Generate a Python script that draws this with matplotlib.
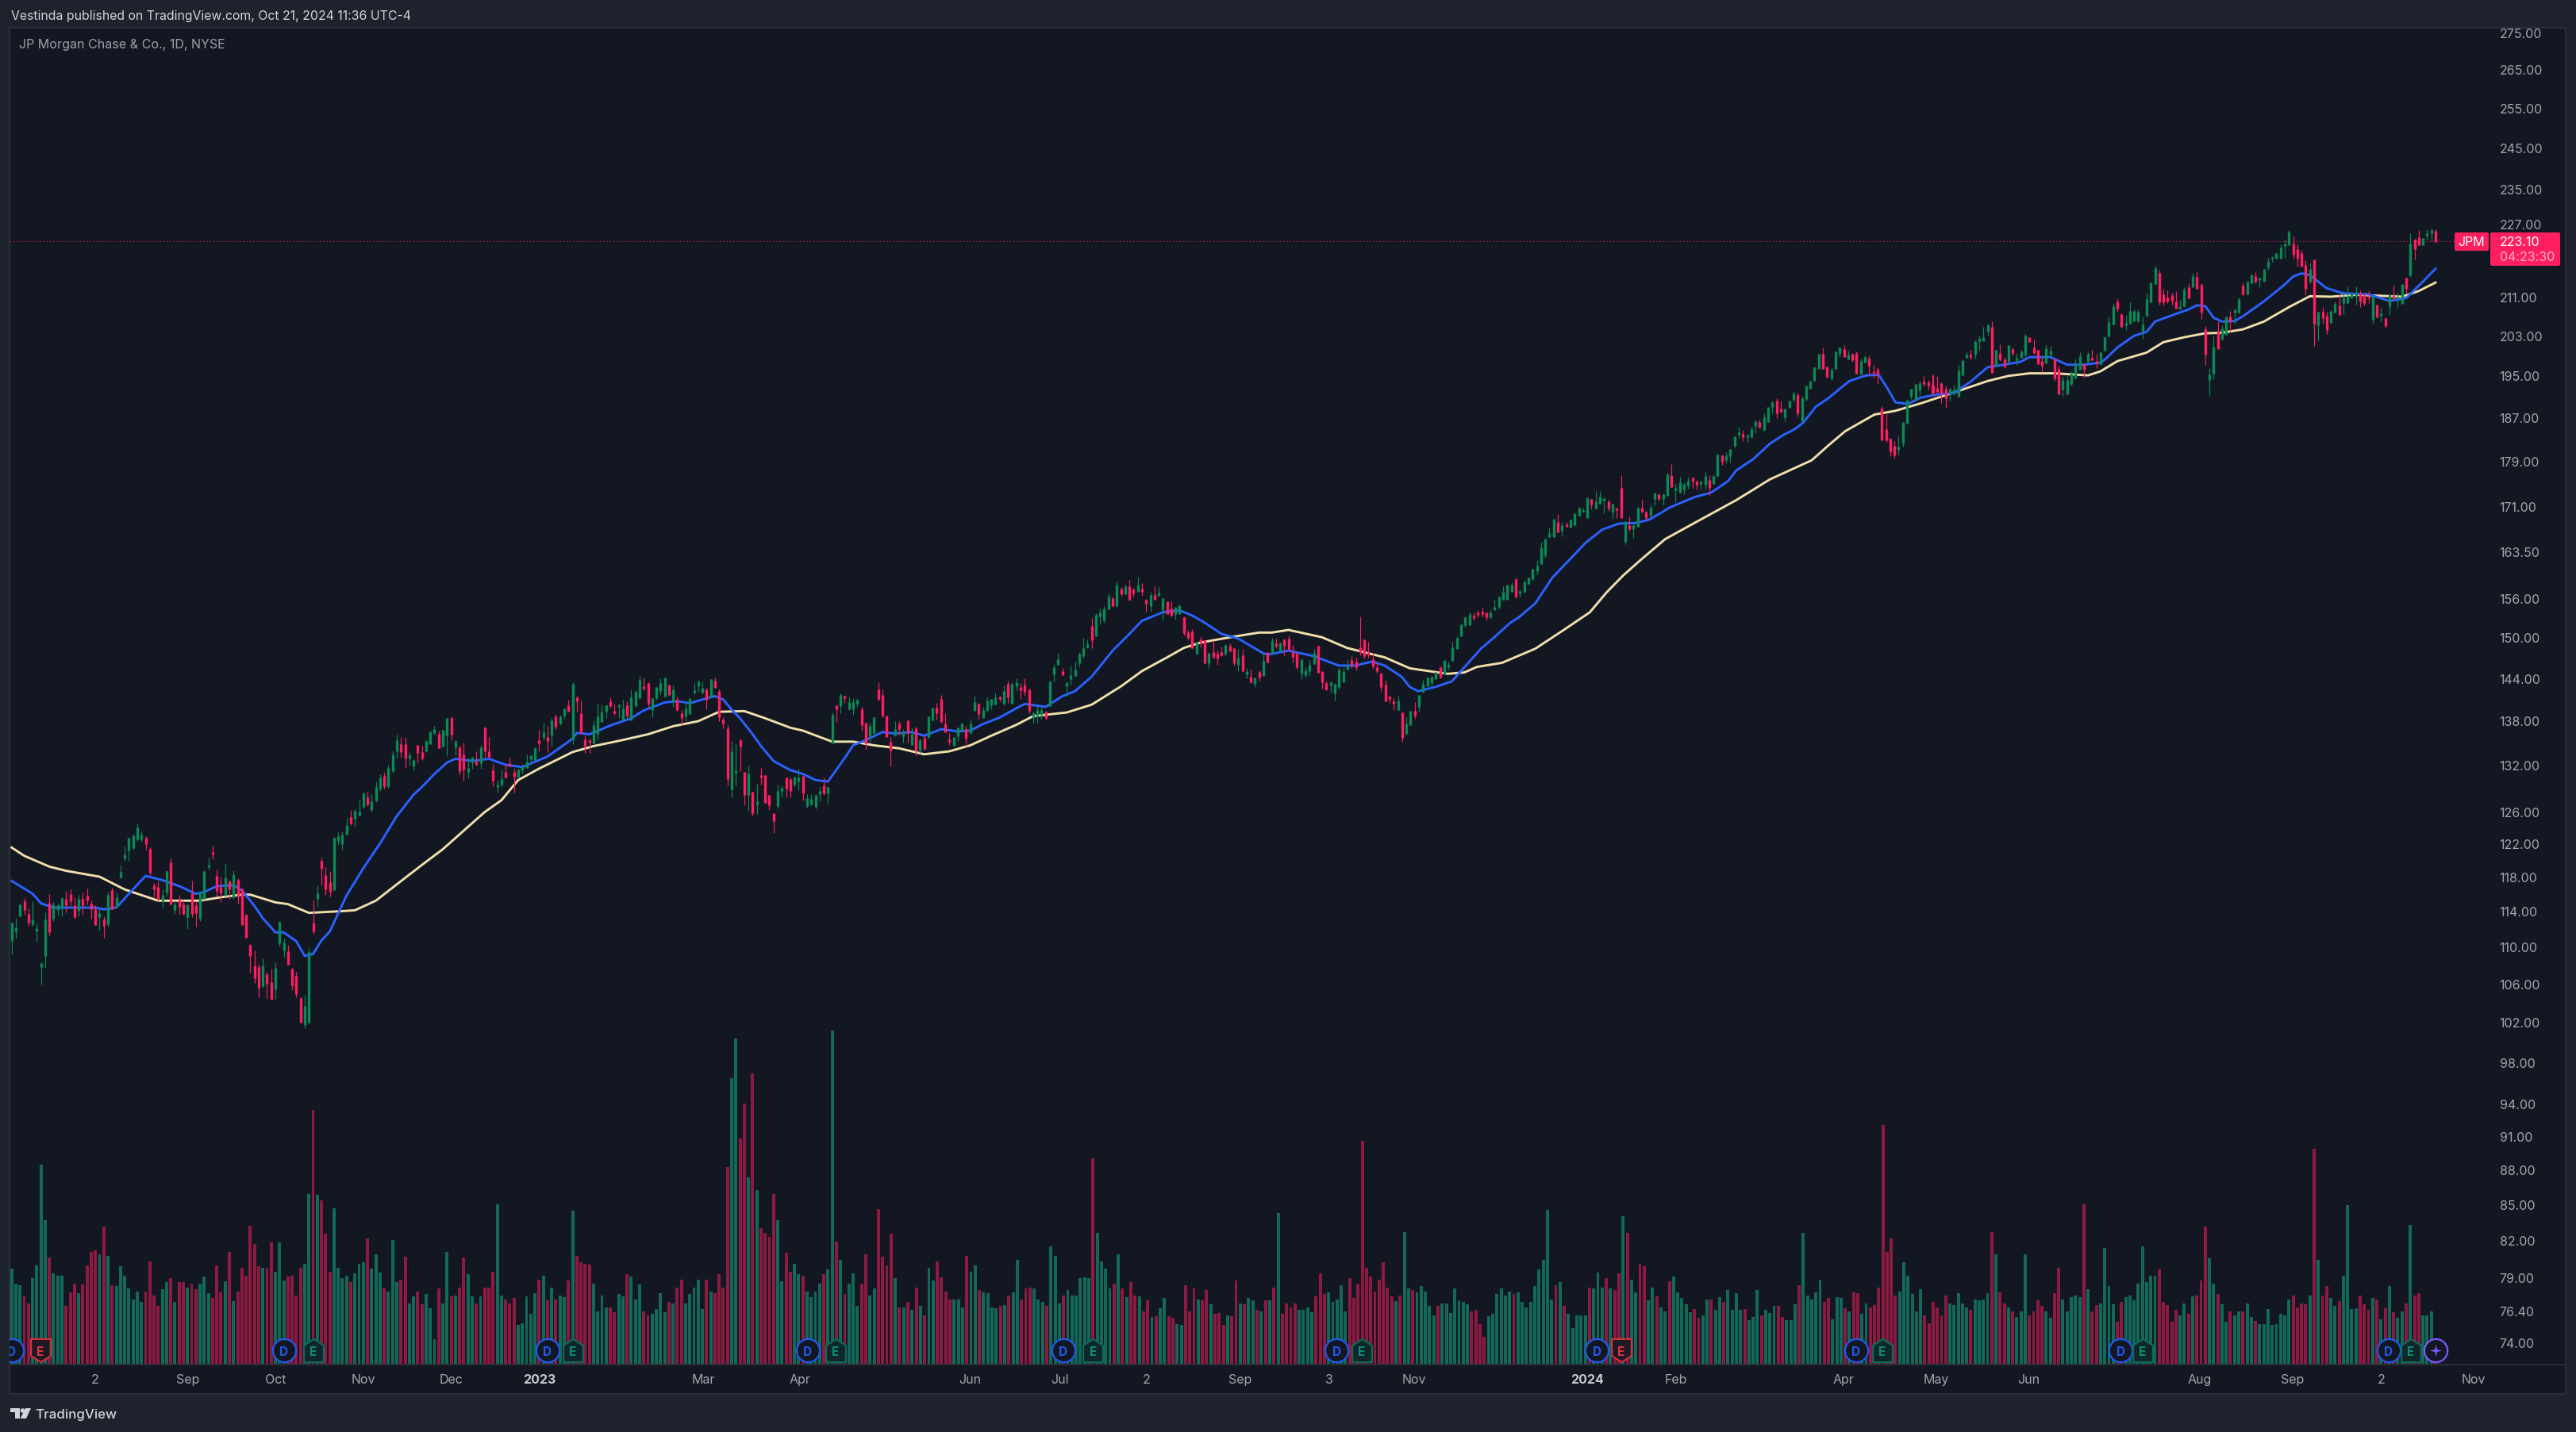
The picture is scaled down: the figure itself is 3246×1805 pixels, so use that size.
import numpy as np
import matplotlib
matplotlib.use("Agg")
import matplotlib.pyplot as plt
from matplotlib.path import Path
from matplotlib.patches import Rectangle, FancyBboxPatch, Polygon, Circle

plt.rcParams['font.family'] = ['Inter', 'DejaVu Sans']

opens = [
110.7,111.8,113.5,115,113.6,112.6,111.8,107.9,109.1,114.9,
113.2,114.2,114.5,115.3,115.9,114.6,114.1,115.3,115.7,114.8,
114.1,113.4,113,112.6,116.3,114.6,118,120.3,121.2,121.5,
122.6,122.6,122.6,121.2,116.9,116.7,115.2,116.2,119.6,114.2,
115.2,114.7,113.4,116,114.6,113.2,115.5,119.2,120.9,118,
116.7,115.9,117.4,115.8,117.5,116.5,113.5,110.1,107.9,107.7,
105.8,106.9,106.1,105.5,110.5,109.7,109.4,107.5,106.8,104.4,
101.8,102,112.6,115.5,119.8,118.1,117.3,116.5,122.4,122,
123.2,125.2,125.2,125.6,126.7,127.7,126.3,127.5,129,130.4,
129.3,131.3,133.9,134.7,134.6,132.9,131.9,134.5,133.6,133.9,
134.9,136.4,136.1,134.5,136,138.2,134.4,134.2,133.3,131.2,
132.4,132.3,132.3,136.9,133.7,131.2,129.2,129.5,131,132.1,
131,130.4,131.4,131.7,132.8,132.7,135.2,135.8,135.6,136.1,
138.5,137.7,138.8,140,135.5,141.1,138.9,135.3,135.2,135,
136.3,137.9,139.3,140.6,139.2,140,138.1,140,138.1,140.1,
141.2,142.7,143.2,139.6,141.2,142.3,141.4,142.9,140.8,140.8,
138.9,138.7,139,142,142.9,142,142.3,141.3,143.5,142,
138,136.8,128.9,131.1,135.2,131,128.2,128.4,127,130.5,
130.5,128,125.7,126.8,128.7,130.2,130,129.5,129.9,130.4,
126.8,127,126.7,128.3,129.2,128.4,135,140,140.1,141.3,
139.7,139.7,140.4,139.5,137.6,135.9,136.4,142.3,141.5,138.6,
135,136.1,137.5,135.9,137.9,134.8,136.8,134,135.5,135.8,
138.1,139.7,140.9,137.5,135.3,134.7,135.9,136.7,136.7,136.4,
139.5,140.2,138.5,139.5,140.2,140.3,141.2,140.4,143,140.5,
142.9,142.6,142.9,142.3,138.4,138.7,138.9,139.1,140.1,144.6,
146,144.9,142.9,143.9,144.4,146.3,147.3,148.6,151.6,150.3,
153.3,152.7,154.4,155.9,154.9,157.3,156.7,157.7,157.2,157.1,
157.4,155.6,154.9,156.4,156.5,154.2,155.4,154.3,153.7,153.7,
152.9,150.6,150.8,147.6,149.6,149.4,146.3,147.6,147.4,147.6,
147.6,148.6,148.2,146,147.2,144.6,144.1,143.3,144.8,144.4,
147.6,147.8,148.9,148,149.6,149.7,147.6,147.4,144.7,144.5,
145.1,146.1,148.6,144.9,143.2,143,141.9,142.8,143.5,145.3,
146.5,146.2,148.4,149.5,147.7,146.6,145.5,144.5,142.9,141.2,
140.6,139.6,139,136.3,137.5,139.2,140,142.1,142.9,143.4,
144,145.4,144.6,145.7,146.6,148.4,150.3,152,152,153.2,
153.6,153.8,153.6,153.2,154.2,154.8,155.8,155.9,157.1,158.8,
156.9,157.1,158.3,159.1,160.4,161.6,163,166,166,168.2,
167,167.8,167.6,168,169.5,170.2,169.2,172.1,170.8,171.6,
172.2,171.8,170.2,170.6,174,165.2,167.7,167.3,167.7,170.7,
169.9,169.6,172.4,172.9,172.4,172.9,176.3,173.9,173.5,174,
174.7,175.9,175.2,175.1,174.9,175.5,175.1,176.5,179.9,179.2,
180,181.8,183.9,183.8,183.4,183.4,185.5,185.9,184.7,186.2,
189.1,190,188.5,187.2,188.9,190.4,191.1,186.4,190.6,192.6,
194.1,196.4,199.1,196.6,194.5,196.4,199.4,200.1,198.3,199.1,
199.3,195.4,197.6,198.2,195.7,196,188.4,184.6,182.9,181.5,
181.1,182.3,185.9,191,190.4,192.2,193.6,193.5,192.9,192.9,
192.4,193.3,192.2,191.8,191.8,191.1,195.2,198.6,198.9,199.2,
202,202,203.9,204.5,197,199.3,198,197.8,200,198.2,
198.7,199.3,202.4,200.3,199.9,197.6,197.5,199.2,198.2,196.1,
192.4,191.5,193.5,194.5,196.3,197,197.8,198.3,197.7,197.4,
200,202.9,205.3,209.8,207.1,205.2,205.6,206.1,206.1,204,
207.1,210,213.8,215.9,211.3,210.6,211.1,209.8,208.6,209.2,
212.8,213.2,215,213.3,204,194.2,195.5,203.7,202.4,203.2,
206.6,207.8,207.8,213.1,211.6,214,215.2,214.7,214.4,217.5,
219.3,219.3,219.3,222.2,222.3,222.4,221.2,220.3,217.7,214.3,
218.8,205.2,207.6,206.9,205.7,207.8,209,209.8,209.9,210.9,
211.1,211.6,211.1,210.9,206.3,209.1,207.2,206.3,209.2,211.1,
210.8,209.6,214.9,215.7,223.3,223.8,222.3,224.4,225,225.2]

closes = [
112.6,112.1,114.7,114.2,112.8,113,112,108.1,113,111.7,
114.7,114.6,115.4,114.8,115.2,113.4,115.3,114.8,115.3,114.3,
112.5,113.7,112.4,115.8,114.3,115.5,118.5,120.6,122.6,122.9,
123.9,123,122,118.6,116.6,115.5,115.8,118.6,114.9,114.7,
114.6,113.8,114.7,113.8,113.9,116,118.6,119.3,120.8,116.4,
116.1,117.8,116.6,118.2,115.8,112.5,111.1,109.1,106.7,105.7,
107.9,106.1,104.4,107.6,112.7,110.4,108.1,105.9,105,102,
103.6,109.3,111.8,116,119,116.6,116.3,122.6,122.8,123,
124.2,124.6,126,125.9,128.2,127,127.2,129,130.2,129.3,
131.5,133.3,135.2,133.8,132.9,133.2,132.5,133.7,132.9,135.1,
136.4,136.7,134.3,136.6,138.2,136.2,135.1,131.3,131.5,131.5,
132.9,132.1,134.2,133.9,133.2,130,129.3,130,130.4,131.9,
130.5,131.3,131.7,132.3,133.2,134.1,135,136.3,135.3,137.9,
137.2,138.5,139.6,139.3,143,140.8,136.4,134.6,135.1,137.2,
138.4,139.1,140,140.1,139.1,140.1,139.6,138.8,141.1,141.9,
143.6,142.6,140.4,141,142.6,143.2,143.9,141.7,142.3,139.6,
138.5,139.6,140.9,142.1,143.4,142.5,141,143.7,142.7,138.6,
137.7,130.2,133.7,131.2,134.5,128.2,130.7,125.9,127.2,130.4,
127.2,126.9,124.9,128.5,128.9,129,128.7,130.3,130.2,128.4,
127.6,127.5,128,128.5,128.4,129,138.7,139.7,141.4,141.2,
140.5,140.5,140.8,137.5,135,137.1,138.3,141,138.8,135.8,
134,136.7,136.9,136.4,136.4,136.1,134,135.2,134.2,138.4,
139.7,139.1,137.9,136.5,135.2,135.6,136.9,137.5,135.6,137.5,
140.4,139,139.3,140.7,140.9,141.1,141.1,142,141.3,143,
143.3,142.4,142.1,139.4,138.9,139.3,139.3,138.5,143.4,145.4,
146.6,144.5,143.3,144.3,145.1,147.4,148.2,148.8,149.7,153.3,
153.6,154.3,156.1,154.9,158,156.7,157.7,155.8,156.8,158,
157.1,155.3,156.4,155.9,156.7,155.9,153.7,153.4,154.5,154.8,
150.8,150,148.5,149.1,149.3,146.3,147.5,147.1,147,147.4,
148.7,148,146.3,146.8,145.1,144.9,143.5,143.9,144.2,146.4,
146.4,149.3,148.8,149.1,148.8,148.2,147.2,145.7,146.6,145,
145.8,147.5,144.9,143.5,142.5,143.3,143,145.1,144.8,145.7,
146,145.7,147.9,147.3,147.5,145.8,145.1,142.8,140.8,141.1,
140.4,140.7,135.7,137.5,139.2,138.8,141.4,143,144,144.1,
144.8,144.2,146.5,145.8,148.4,149.8,151.8,152.9,153.4,153,
153.5,153.7,153.1,153.7,154.5,156.1,156.8,158,158,156.3,
157,158.5,159.1,160.5,161,164,165.4,166.4,168.7,166.8,
167.7,167.7,168.6,169.7,170.6,170.3,172.4,171.5,171.7,172.5,
172.3,170.8,171.3,170.5,169.2,168.3,167.3,167.7,170.6,170.2,
169.2,170.7,173.2,172.4,172.9,176.4,174.5,174,175,174.7,
175.3,175.5,174.9,175.2,176.1,174.4,176.2,180,179,179.8,
181,183.3,184.1,183.4,183.6,184.6,186.1,185.2,186.8,188.7,
189.6,187.8,188.1,188.4,189.9,191.4,187.9,190.4,192.8,193.8,
196.4,199.1,196.4,194.8,195.9,199.6,200.4,198.8,199,198.2,
195.5,197.6,198.5,197.1,195.6,195.4,182.8,182.8,180.8,180.1,
181.4,185.9,190.2,192.2,193.2,193.4,193.5,193.2,191.7,191.8,
191.9,191.6,190.7,192.2,192.1,195.8,197.8,198.9,198.8,201.7,
202.1,202.4,205.1,195.7,199.9,198.3,196.9,200.9,199.6,198.3,
199.6,202.7,201.8,199.5,197.4,197,200.2,199.7,194.5,191.5,
193.9,194,195.2,197.2,198.7,196.3,199.1,198.2,197.5,199.4,
202.4,205.6,208.9,208.6,204.8,205.3,207.8,207.9,207.6,205.1,
210.3,213.8,217,210,210,210.2,210.3,208.6,208.8,212.4,
210.8,215.3,212.8,207.9,199.2,195,200.5,200.3,204.2,206.6,
206.1,208.1,210.4,211.6,214.1,215.6,214.4,214.9,216.7,218.4,
219.4,220.3,221.4,222.3,225,220.3,219.3,217.7,212.8,216.8,
205.5,207.6,206.6,204.3,207.9,209.4,207.4,210.6,211,211.7,
211.6,210.1,209.8,210.8,210.9,206.9,207.4,205.1,211.4,210.9,
210.9,213.5,212.8,222.4,221.4,222.3,223.6,224.6,225.4,223.1]

highs = [
112.7,113.2,114.9,115.5,114.3,115.1,112.6,108.3,113.9,116,
115,114.9,115.6,116.3,116.5,115.6,115.9,116.1,116.6,115.2,
114.7,114.2,113.4,116.2,116.7,116.1,119.4,121.6,122.8,123.1,
124.5,123.5,122.9,121.5,117.3,117.4,116.5,118.8,120.2,115.2,
115.9,115.3,114.8,117.5,115.1,116.2,118.8,120.3,121.7,118.9,
118,119.5,117.4,118.8,117.8,116.6,113.7,110.3,109.6,108.1,
108.7,107.3,107.6,108.3,112.9,110.9,110.2,107.7,107.3,104.6,
104.8,109.9,115.3,117,120.3,119.1,118.7,122.8,123.4,123.5,
125.2,126.2,126.3,127.5,128.5,128.5,128.2,129.8,130.8,131,
132,133.9,136.1,135.7,135.7,133.7,132.7,134.6,134.5,135.3,
136.5,137.2,136.6,136.6,138.3,138.6,135.3,134.5,135,133,
133,133.8,134.6,137.1,135.7,132.1,130,131.4,132,133,
131.5,131.5,132.1,133.4,133.2,134.3,136.7,137.7,137.2,138.3,
138.9,138.8,139.7,140.9,143.5,141.5,140.8,135.9,135.5,138,
140.3,140.2,140.2,141.2,140.3,140.2,140.9,140.7,142.4,142.3,
144.3,144.1,143.4,141.2,142.7,143.9,144,143,142.9,141.3,
139.4,140.7,141.2,143.3,143.7,143.5,142.6,143.8,144.1,142.4,
138.5,137.4,135.2,134.9,135.5,131,131.9,128.5,129.5,131.6,
130.6,128,125.7,129.4,129.3,130.3,130.3,130.4,131.5,130.5,
128.2,128.2,128.2,129.1,130.3,129.1,139.1,140.2,141.8,141.5,
141.3,141.1,141,139.9,137.7,137.7,138.4,143.4,142.4,138.6,
135.7,137.9,137.9,136.8,138,137,137.1,135.5,135.9,138.6,
139.8,140.4,141.6,139,136.3,135.7,137,137.7,137.2,138.2,
141.4,140.4,139.9,141.2,141,141.9,141.3,142.9,143.6,143.4,
144,143.3,144,142.5,139.2,140,139.8,139.3,143.6,146,
147.6,145.4,143.4,145.8,146.4,147.8,149.9,149.7,152.9,153.7,
154.4,154.8,156.7,156.2,158.6,157.7,158.1,158.8,157.6,159.4,
158.4,155.9,157,157.8,157.7,156,155.5,155.5,154.5,155,
153.2,151.1,151.2,149.3,150.2,149.7,147.6,149.4,148,148.6,
148.9,149.1,148.4,148.2,148.3,145.5,145.3,144,145.1,147.6,
147.8,149.9,149.8,149.2,149.8,150.3,148.8,147.8,146.6,145.6,
146.6,148.3,148.7,144.9,143.5,143.5,143.1,145.5,145.4,146.7,
147.2,147,153.1,149.6,149.3,147.6,146.2,144.8,143.7,141.5,
141.1,141.5,139.1,138.4,139.2,140.6,141.5,143.7,144.1,144.3,
144.8,145.7,146.5,146.4,149.3,150.2,152,153.1,153.9,153.8,
154.1,154.5,153.7,154.1,155.7,156.2,157.9,158.1,158.5,159.2,
157.4,158.7,159.3,160.7,162,165,165.5,167.4,168.8,169.7,
168.4,168.4,168.7,169.7,170.9,170.8,172.4,172.3,173.6,173.6,
172.6,172.1,171.4,170.6,176.5,168.5,169.3,168.1,170.9,172.2,
170.2,171.3,173.3,173.3,173.2,176.9,178.4,175.1,176.1,175.1,
176.1,176.2,175.6,175.4,177,176.4,176.4,180.3,180.1,180.6,
181.1,183.5,185.2,184.6,183.7,185.2,186.4,186.6,187.7,188.8,
190.2,190.6,190.1,188.6,190.2,191.9,191.7,191.1,192.9,194,
196.7,199.2,200.5,196.8,196.5,199.7,200.7,201,199.9,199.4,
199.8,198.3,199,199,197.1,196.6,189,187.6,183.2,182.5,
183.5,186,190.2,192.3,193.2,194,194.8,194.1,195.1,195.2,
194.8,193.7,193,192.5,193.2,197,197.9,199.6,200.1,201.9,
202.9,204.7,205.2,205.9,200.1,201.1,198.7,201,200.6,199.4,
200.1,203.3,202.6,202.1,200,198.7,201.1,200.9,198.2,196.9,
194.8,195.1,195.8,198.2,199.6,197.4,199.5,200.1,199.2,199.5,
202.7,206.9,209.7,210.6,207.5,207.1,209.9,208.3,208.3,206.8,
211.9,213.9,217.7,216.7,212.6,212.3,211.9,212.1,210.3,213,
213.8,216,216.5,213.9,204.8,196.5,202.7,205.9,205,206.7,
208,208.2,210.9,214,214.3,215.6,216.2,215.1,216.9,219.4,
219.8,220.5,222.3,223.4,225.6,224.2,222.3,221.1,218.9,218.4,
218.8,207.8,208.9,207.8,208.1,210,211.5,212.1,213.1,211.9,
213.1,212.4,211.9,212.3,211.1,209.2,208.9,206.6,211.7,213.4,
211.9,213.6,214.9,224.8,223.6,225.6,223.6,225.8,226,225.8]

lows = [
109.2,110.9,113.5,113.6,112.3,112.3,110.6,105.9,107.7,111.3,
112.9,113.6,113.4,113.9,114.6,113.1,113.4,113.6,114.8,113.1,
112.4,111.8,111,112.2,114.2,114.4,117.8,119.9,119.9,121.2,
122.3,122.2,121.2,118.2,115.6,115.1,114.4,115.7,114.9,113.7,
113.6,113.6,112,113.3,112.2,112.9,115.3,118.9,120.1,115.7,
115,115.8,115.4,115.4,114.9,112.5,111.1,107.2,106.1,104.6,
105.6,104.4,104.4,104.4,110,108.9,108,105.3,104.6,102,
101.4,101.9,111.4,114.5,117,115.9,115.7,116.5,121.8,121.2,
123.2,124.3,124.1,125.6,126.4,126.7,126,127.2,128.6,128.9,
129,131,132.9,132.9,131.6,131.9,131.3,132.3,132.6,133.7,
134.8,136,134.2,134.4,133.2,135.3,133.3,130.7,129.9,130.2,
131.5,132,131.5,132.9,132.9,129.2,128.4,129.2,130.2,131.8,
128.4,130.2,130.9,131.6,132.2,132.6,133.8,135.3,133.7,134.4,
136.8,137.4,138.2,139.3,134.8,139.2,136.3,133.6,133.6,134.9,
135.3,137.8,138.3,139.8,138.8,138.3,138.1,138.3,138.1,139.9,
141.1,142.3,139.9,138.5,140.9,141.6,141.3,141.6,139.9,139.3,
137.4,137.9,138.9,141.7,142,141.8,139.6,141.2,142.7,137.9,
136.9,129.3,127.8,129.3,131.2,126.8,126.1,125.5,125.7,129.4,
127.1,126.2,123.3,126.4,127.8,127.8,127.8,129.1,128.7,127.4,
126.5,126.8,126.4,127.3,128.1,127,134.9,137.7,139,140.4,
139.5,138.8,139.9,136.6,134,135,136.1,140.9,138.4,135.7,
131.8,135.8,136.1,135,135,134.8,133.2,133.6,134,135.5,
138,138.1,137.7,136.4,134.7,134.5,135.2,136.4,134.4,136.3,
139.4,138.1,138.3,139.4,139.6,140.2,140.7,140.1,140.5,140.3,
142.3,141,141.5,139,137.6,137.7,138.2,138.1,140,143.5,
145.9,144.4,141.5,143,144.3,145.7,147,148.4,148.4,150.2,
151.9,152.2,154.3,154.8,154.8,156.4,156.6,155.6,156.2,157.1,
156.4,153.9,153.9,155.8,156.4,152.6,153.5,153.2,152.7,153.6,
150.3,149.6,148.4,147.4,148.5,146,145.5,147,145.9,147.2,
147.2,148,145.8,145,145,144,143.3,142.7,143.6,144.3,
146.3,147.7,148.4,147.9,147.3,148.1,146.2,145.2,143.8,144.1,
144.3,146,144.8,142.5,142.3,141.9,140.8,142.5,143.4,145.3,
145.4,145.1,147.3,146.8,147,145.3,144.8,142.1,140.7,140.4,
139.4,139.4,135.1,136,137.4,138.2,139.2,141.9,142.8,142.8,
143.9,143.9,144.6,145.2,146.5,148.3,150.2,151.6,151.9,152.6,
153,153.2,152.6,152.8,154.1,154.4,155.7,155.9,157,156,
156.1,156.9,158.2,158.9,159.8,161.5,162.5,165.9,165.8,166.7,
165.9,167.5,167.4,167.9,169.4,169.9,169.1,170.6,170.7,171.5,
169.8,170.3,168.9,169,169.2,164.7,166.9,165.7,167.5,170,
168.7,169.3,171.2,172,171.2,172.8,174.3,171.7,173.4,173.1,
174,174.2,173.9,173.9,173.9,173,175,176.2,178.2,178.5,
178.7,181.4,183.2,182.6,182.3,183.2,184,185,184.4,186.1,
187.7,186.8,188,186.3,188.7,190,187.2,186.3,190.2,192.5,
194,196.3,196.3,194.6,194.1,196.3,198.7,198.7,198.1,197.7,
195.4,195.3,197.5,195.1,194.4,193.4,182.7,182.4,179.8,179.4,
180.1,181.5,185.9,190.5,190.3,191.2,192.8,192.3,191.1,191.7,
191.7,189.7,188.7,190.1,191.2,191.1,195.2,198.4,198.2,198.3,
199.9,202.1,202.9,195.7,196.8,197.9,196.4,197.6,198.9,197.1,
198.6,198.5,201.6,199.2,197.3,195.6,197.3,198.7,194,191.5,
191.1,191.4,193,194.4,196.2,194.5,197.6,198,196.5,197.1,
199.9,202.8,205.2,207.8,204.7,204.1,205.6,206,205.7,202.3,
206.8,209.8,213.6,209.4,209.2,209.7,209.4,208.5,208.3,208.8,
210.7,213.1,212.6,206.4,197.1,191,194.3,200.3,201.9,203.1,
203.8,205.3,207.5,211.3,211.5,213.9,213.8,213,214.4,216.7,
218.5,219.3,219.3,219.3,222.2,219.2,217.4,217.4,211.3,213.9,
200.8,201.9,205.3,203.2,205.6,207.6,207.4,207.4,209.7,210.8,
209.4,208.9,209.2,209.7,205.4,206.8,205.8,204.5,207.1,210.3,
208.6,209.6,211.6,215.3,219,222.1,222.1,223.4,223.1,223.1]

# Volume in millions, in three stretches
volume_a = [
9.7,8.2,8,6.9,6.2,8.7,10,20.2,14.6,10.8,9.2,9,9,5.9,7.3,8.2,7.2,8.1,10,11.4,11.5,11.1,13.9,11,8,7.9,9.9,9,7.7,6.6,7.4,6.3,7.4,10.4,7,5.9,7.6,8.3,8.7,6.3,
8.3,8.3,7.8,8.2,7.6,8.2,8.9,7.2,6.7,10,7.3,8.4,11.4,6.4,7.4,9.8,9,14,12.2,9.9,9.8,9.8,12.3,9.4,12.3,8.5,8.9,9,7,9.8,10.2,17.2,25.7,17.1,16.6,13.2,9.4,15.8,9.8,8.7,
9,8.3,9.2,10.2,10.3,12.7,9.7,11.1,9.3,7.7,7.4,12.6,8.3,8.6,10.9,6.2,6.9,7.4,6.1,7.1,5.7,2.6,7.7,6.2,11.4,6.9,7,7.8,10.8,9.1,6.9,6.2,6.9,7.8,7.8,9.4,16.2,7,6.6,6.2,
6.7,4,4.2,6.9,5.1,7.2,8.6,9,6.5,7.8,6.6,7,6.8,8.5,15.5,11,10.3,10.2,10.1,8.2,5.4,7,5.8,5.8,5.3,7.1,6.9,9.1,8.9,6.6,8.1,5.4,5,5.1,5.6,7.2,5.3,6.3,6.2,7.8,
8.6,6.2,7.1,7.8,8.6,5.6,8.6,7.4,7.2,9.1,7.8,19.9,28.9,32.9,22.8,26.3,18.9,29.4,17.6,13.8,13.3,12.9,17.2,14.6,8.4,11.3,9.4,10.2,9.1,9,7.4,6.8,7.4,8.2,9.1,9.6,33.7]
volume_b = [
12.4,10.6,7.1,8.2,9.2,5.9,8.2,11.1,7,7.7,15.7,10.9,10,13.2,8.7,5.8,5.8,6.3,5.5,7.8,5.9,5,9.8,8.5,10.4,8.8,7.4,6.6,6.6,6.6,5.8,11,9.4,10,7.5,7.3,7.2,5.8,5.7,5.9,
6,7,7.3,10.6,6.6,7.7,7.8,7.7,6.6,6.3,5.9,11.9,11,6.2,7,7.5,7,7,8.7,8.8,8.7,20.8,13.3,10.4,9.7,7.7,8.2,11.1,7.7,6.8,8.3,7,6.9,5.4,6.5,4.8,4.9,5.7,6.7,4.9,
4.7,4.1,4,8,5.4,7.7,6.6,6.5,7.5,6.1,5.1,5.2,4,5,4.9,8.5,6.2,6.1,6.7,6.5,5.5,5.4,6.5,6.5,7.8,15.3,5.1,6.2,5.8,6.2,5.5,5.5,5.8,5.3,6.9,9.2,7.1,7.3,6.3,6.6,
8,5.4,8.7,6.7,8.2,22.6,9.8,8.9,7.4,8.6,10.3,7.8,6.9,6.4,7,13.4,7.7,7.5,7.3,7.9,7.4,5.9,5,5.9,6.2,6.2,5.2,7.7,6.5,6.3,6.1,5.4,5.5,4.1,2.8,4.9,5.1,7.1,7.7,7,
7.4,7.1,7.3,6.3,5.8,6.3,7.9,9.6,10.6,15.6,6.6,8,8.3,5.9,5.1,3.7,5,5,5,7.8,7.7,9.3,7.8,8.7,7.7,7.5,9.2,15,13.3,8.6,7.3,10.2,9.9,6.5,7.8,6.9,5.8,5.4]
volume_c = [
8.4,8.9,7.3,6.7,6.1,5.3,5.6,4.7,5,6.6,6.6,5.5,6.8,6.3,7.5,5.5,7.2,5.5,5.6,4.5,4.8,7.5,5,5.5,5.2,5.9,5.9,4.8,4.5,4.5,6.1,8,13.3,7,6.6,7.3,8.6,6.3,6.7,4.6,
6.8,6.7,5.7,5.4,7.3,7.2,5.1,6.2,5.8,6,7.8,24.2,11.4,12.7,7,7.4,10.3,9,7.1,5.4,7.6,5,4.2,6.3,5.8,5,7,6.2,6,7.2,6.2,5.8,5.5,6.6,6.5,6.6,7.2,13.4,11.1,7.3,
6.2,5.8,5.4,4.8,5.4,11.1,5,5.4,6.5,5.9,5.4,4.7,7.2,9.8,6.6,5.4,6.8,7,6.8,16.2,7.6,5.4,6,6.2,11.8,7.9,6.1,4.3,6.3,6.8,7,6.5,8.2,11.9,8.3,9,9,9.6,6.3,6,
4.3,5.5,5,6.2,5.1,6.9,7,8.5,13.9,10.7,8.2,7.1,6.1,4.3,5.4,5,5.4,5.4,6.2,4.8,4.4,4.1,4.1,5.6,4,4.1,5.1,5,6.6,7,5.8,6.2,6.1,7,21.8,10.6,7,7.9,6.7,5.9,
6.4,9,16.1,5.6,5.7,7,6.1,5.5,6.7,6.6,4.6,5.7,7.9,5.3,4.7,5.4,6.2,14.1,7,7.2,5,5,5.4,1]

# Moving averages: bar number, price
blue_bars = [0,5,7,10,20,22,25,28,32,36,40,44,46,49,53,55,58,60,63,65,68,70,72,74,76,80,84,88,92,96,98,101,104,106,110,114,118,122,128,134,135,138,143,148,151,156,159,162,166,168,170,172,174,177,179,182,186,189,192,195,199,201,204,208,211,215,218,222,226,229,232,236,240,242,247,251,254,258,263,267,270,275,279,282,285,289,293,299,300,305,311,317,321,325,328,332,334,336,340,344,351,354,358,360,364,368,371,376,380,384,388,391,394,396,402,406,410,412,416,420,423,426,428,431,434,437,439,443,446,448,450,453,456,460,464,468,472,476,480,482,487,491,495,499,500,503,507,510,512,517,520,522,524,526,528,531,533,538,543,545,547,549,553,557,563,568,572,576,579]
blue_vals = [117.5,116,114.9,114.4,114.4,114.2,114.4,116,118.1,117.6,116.9,116,116.2,116.9,117,116.4,114.6,113.2,111.6,111.6,110.6,109,109.2,110.7,111.7,115.8,119,122,125.4,128.1,129.1,130.8,132.3,132.8,132.5,132.8,132,131.7,133.1,135.5,136.3,136.1,137.3,138.3,139.4,140.5,140.7,140.4,141.1,141.4,140.9,139.5,138.3,136.1,134.5,132.5,131.3,130.8,130,129.8,132.9,134.6,135.3,136.4,136.2,136.4,135.9,136.8,136.5,136.6,137.5,138.4,139.7,140.3,139.9,141.4,142.1,144.2,148,150.5,152.5,153.8,154.1,153.3,152.2,150.5,149.8,147.6,147.4,148,147.2,145.8,145.8,146.4,145.8,144.2,142.7,142.1,142.7,143.5,148.3,149.9,152.2,153,155.2,159.2,161.3,164.9,167.1,168.1,168.2,168.7,169.9,170.8,172.6,173.4,175.4,177.3,179.3,182.1,183.6,184.8,186,189,190.6,192.6,193.9,195,195.1,192.6,189.8,189.5,190.7,191.3,191.6,193.8,196.6,197.1,197.7,198.6,198.6,197.1,197.1,197.5,198.1,200.5,202.9,203.7,205.8,207.4,208.3,209.2,209,206.6,205.8,205.9,206.9,210,213.6,215.3,216,215.6,212.8,211.7,211.5,210.1,210.7,214.2,217]
yellow_bars = [0,3,9,13,21,27,35,45,50,55,57,63,66,71,79,82,87,92,98,103,113,117,121,126,134,139,145,152,158,164,169,175,180,186,189,196,201,206,212,218,224,229,234,240,244,252,258,265,270,276,280,284,292,298,301,305,313,319,328,334,343,347,350,356,364,371,377,381,385,389,395,402,412,420,430,434,438,445,450,453,456,464,472,477,482,488,496,499,503,510,514,519,524,528,533,538,544,549,554,560,571,575,579]
yellow_vals = [121.5,120.5,119.2,118.7,118,116.5,115.2,115.2,115.6,115.9,115.9,115,114.8,113.8,114,114.1,115.2,117.1,119.4,121.3,125.9,127.4,130,131.5,133.7,134.5,135.2,136.1,137.2,137.9,139.2,139.3,138.3,137,136.6,135.1,135.1,134.6,134.2,133.4,133.8,134.6,135.9,137.4,138.6,139.1,140.2,142.8,145,147,148.4,149.2,150.1,150.7,150.7,151.1,150,148.4,147,145.4,144.6,144.8,145.6,146.2,148.3,151.2,153.8,156.9,159.6,162,165.5,168.2,172.1,175.7,179.1,181.8,184.4,187.5,188.2,188.9,189.6,191.7,193.9,194.9,195.4,195.4,195,195.8,197.8,199.5,201.6,202.6,203.4,203.5,204.2,205.8,208.8,211.1,211,211.4,211,212.2,214]

price_ticks = [275,265,255,245,235,227,211,203,195,187,179,171,163.5,156,150,144,138,132,126,122,118,114,110,106,102,98,94,91,88,85,82,79,76.4,74]
time_bars = [19.8,42,63,84,105,126,165.2,188.3,229,250.3,271,293.5,314.7,335,376.3,397.6,437.6,459.8,481.8,522.7,544.9,566,588]
time_labels = ['2','Sep','Oct','Nov','Dec','2023','Mar','Apr','Jun','Jul','2','Sep','3','Nov','2024','Feb','Apr','May','Jun','Aug','Sep','2','Nov']
dividend_bars = [0,65,128,190.2,251.2,316.5,378.7,440.6,503.8,567.8]
earnings_up_bars = [72,134.1,196.8,258.3,322.5,446.8,509,573.1]
earnings_down_bars = [6.9,384.5]
news_bars = [579]
last_price = 223.10

W, H = 3246, 1806
OUTER, PANE, BORDER = '#1e222d', '#131722', '#2a2e39'
UP, DOWN = '#0b8a55', '#ff1f60'
VOL_UP, VOL_DOWN = '#12695a', '#8e1a41'
BLUE, YELLOW = '#2962ff', '#efdfab'
TXT = '#a3a6af'

def rect(l, t, r, b):
    return [l / W, 1 - b / H, (r - l) / W, (b - t) / H]

fig = plt.figure(figsize=(W / 100, H / 100), dpi=100, facecolor=OUTER)

bg = fig.add_axes([0, 0, 1, 1], zorder=0)
bg.set_xlim(0, W); bg.set_ylim(H, 0); bg.axis('off')
bg.add_patch(Rectangle((12, 36), 3233 - 12, 1758 - 36, fc=PANE, ec=BORDER, lw=1.6))

n = min(len(opens), len(closes), len(highs), len(lows))
o, c, hi, lo = [np.array(a[:n], float) for a in (opens, closes, highs, lows)]
bars = np.arange(n)
rising = c >= o

# Bar positions: the reading of bars 300-458 drifts up to most of a bar left of the true grid
candle_x = bars + np.where(bars >= 459, 0.0, np.interp(bars, [300, 458], [0.0, 0.8]))

XLIM = ((12 - 14.7) / 5.275, (3233 - 14.7) / 5.275)

# volume
axv = fig.add_axes(rect(12, 36, 3233, 1721), zorder=1)
axv.patch.set_alpha(0)
axv.set_xlim(*XLIM)
axv.set_ylim(0, 1685 / 12.5)
axv.axis('off')
vol_x = [np.arange(len(volume_a), dtype=float),
         np.linspace(len(volume_a), 395, len(volume_b)),
         np.linspace(396, 579, len(volume_c))]
for xs, vol in zip(vol_x, (volume_a, volume_b, volume_c)):
    nearest = np.abs(candle_x[None, :] - xs[:, None]).argmin(axis=1)
    cols = [VOL_UP if rising[k] else VOL_DOWN for k in nearest]
    axv.bar(xs, vol, width=0.74, color=cols, linewidth=0)

# price
ax = fig.add_axes(rect(12, 36, 3233, 1721), zorder=2)
ax.patch.set_alpha(0)
ax.set_yscale('log')
ax.set_xlim(*XLIM)
ax.set_ylim(227 * np.exp(-1438 / 1258), 227 * np.exp(247 / 1258))
for s in ax.spines.values():
    s.set_visible(False)

ax.plot(yellow_bars, yellow_vals, color=YELLOW, lw=2.1, solid_joinstyle='round', zorder=2)
ax.plot(blue_bars, blue_vals, color=BLUE, lw=2.1, solid_joinstyle='round', zorder=2.1)

colors = np.where(rising, UP, DOWN)
ax.vlines(candle_x, lo, hi, colors=colors, lw=0.85, zorder=3)
pad = np.exp(1.0 / 1258)
ax.vlines(candle_x, np.minimum(o, c) / pad, np.maximum(o, c) * pad, colors=colors, lw=2.4, zorder=3.1,
          capstyle='butt')

ax.plot([XLIM[0], (3093 - 14.7) / 5.275], [last_price, last_price], color=DOWN, lw=0.72,
        ls=(0, (1.4, 2.8)), alpha=0.8, zorder=1.5)

ax.set_yticks(price_ticks)
ax.set_yticklabels([f'{p:.2f}' for p in price_ticks])
ax.minorticks_off()
ax.yaxis.tick_right()
ax.tick_params(axis='y', which='both', length=0, pad=-60, labelsize=11.5, labelcolor=TXT)
ax.set_xticks(time_bars)
ax.set_xticklabels(time_labels)
ax.tick_params(axis='x', length=0, pad=8, labelsize=11.5, labelcolor=TXT)
for t in ax.get_xticklabels():
    if t.get_text() in ('2023', '2024'):
        t.set_fontweight('bold'); t.set_color('#c8cad1')

# event markers
ytr = ax.get_xaxis_transform()
yf = (1721 - 1703) / 1685
house_up = Path([(-.85, -1), (.85, -1), (.85, .45), (0, 1), (-.85, .45), (-.85, -1)], closed=True)
house_dn = Path([(-.85, 1), (.85, 1), (.85, -.45), (0, -1), (-.85, -.45), (-.85, 1)], closed=True)
star4 = Path([(0, 1), (.2, .2), (1, 0), (.2, -.2), (0, -1), (-.2, -.2), (-1, 0), (-.2, .2), (0, 1)], closed=True)

def mark(xs, marker, ms, mfc, mec, letter, col):
    for x in xs:
        ax.plot([x], [yf], marker=marker, ms=ms, mfc=mfc, mec=mec, mew=1.6, transform=ytr,
                zorder=6, ls='none')
        if letter:
            ax.text(x, yf, letter, color=col, fontsize=11, fontweight='bold', ha='center', va='center_baseline',
                    transform=ytr, zorder=7, clip_on=True)

mark(dividend_bars, 'o', 21, PANE, '#1f5af0', 'D', '#1f5af0')
mark(earnings_up_bars, house_up, 21, '#10262b', '#0d6b58', 'E', '#0a8f70')
mark(earnings_down_bars, house_dn, 21, '#1d1a26', '#d32f3a', 'E', '#e0323e')
mark(news_bars, 'o', 21, PANE, '#7e57ff', None, None)
ax.plot(news_bars, [yf], marker=star4, ms=11, mfc='#7e57ff', mec='none', transform=ytr, zorder=7, ls='none')

# chrome
top = fig.add_axes([0, 0, 1, 1], zorder=3)
top.set_xlim(0, W); top.set_ylim(H, 0); top.axis('off'); top.patch.set_alpha(0)
top.plot([12, 3233], [1721, 1721], color=BORDER, lw=1.4)
top.text(14, 20, 'Vestinda published on TradingView.com, Oct 21, 2024 11:36 UTC-4', color='#d1d4dc',
         fontsize=11.4, va='center', ha='left')
top.text(24, 57, 'JP Morgan Chase & Co., 1D, NYSE', color='#9ea1aa', fontsize=11.55, va='center', ha='left')
top.add_patch(FancyBboxPatch((3093, 294), 43, 23, boxstyle='round,pad=0,rounding_size=2', fc=DOWN, ec='none'))
top.add_patch(FancyBboxPatch((3138, 294), 88, 42, boxstyle='round,pad=0,rounding_size=2', fc=DOWN, ec='none'))
top.text(3114.5, 305.5, 'JPM', color='white', fontsize=11.5, ha='center', va='center')
top.text(3150, 305.5, f'{last_price:.2f}', color='white', fontsize=11.5, ha='left', va='center')
top.text(3150, 324.5, '04:23:30', color='#ffb0c8', fontsize=11.5, ha='left', va='center')
top.add_patch(Polygon([(13, 1776), (25, 1776), (25, 1789), (18.5, 1789), (18.5, 1781), (13, 1781)], fc='#d1d4dc', ec='none'))
top.add_patch(Circle((28.5, 1779), 2.8, fc='#d1d4dc', ec='none'))
top.add_patch(Polygon([(32, 1776), (39, 1776), (33, 1789), (25.5, 1789)], fc='#d1d4dc', ec='none'))
top.text(44, 1784, 'TradingView', color='#d1d4dc', fontsize=12.2, fontweight='medium', va='center', ha='left')

fig.savefig('out.png', dpi=100, facecolor=OUTER)
